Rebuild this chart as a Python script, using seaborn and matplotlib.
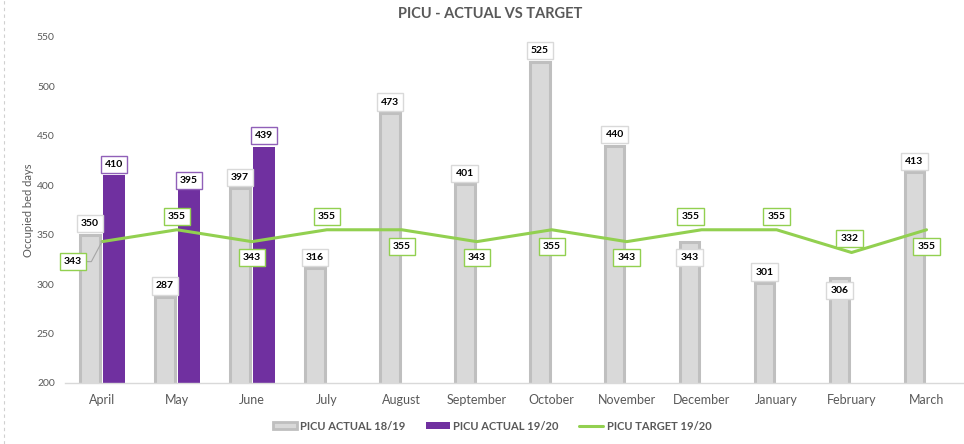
import numpy as np
import pandas as pd
import matplotlib
matplotlib.use("Agg")
import matplotlib.pyplot as plt
import seaborn as sns
from matplotlib.lines import Line2D
from matplotlib.patches import Patch

months = ["April", "May", "June", "July", "August", "September", "October",
          "November", "December", "January", "February", "March"]
actual_1819 = [350, 287, 397, 316, 473, 401, 525, 440, 343, 301, 306, 413]
actual_1920 = [410, 395, 439]
target_1920 = [343, 355, 343, 355, 355, 343, 355, 343, 355, 355, 332, 355]
series_names = ["PICU ACTUAL 18/19", "PICU ACTUAL 19/20", "PICU TARGET 19/20"]
title = "PICU - ACTUAL VS TARGET"
y_label = "Occupied bed days"
y_ticks = [200, 250, 300, 350, 400, 450, 500, 550]

# label placement (pixel offsets from the anchored value)
gray_label_dy = [11, 11, 11, 11, 11, 11, 11, 11, -16, 11, -12, 11]
purple_label_dy = [11, 10, 11]
green_label_off = [(-29, -20), (0, 13), (0, -16), (0, 13), (0, -17), (0, -16),
                   (0, -17), (0, -16), (-11, 13), (0, 13), (-2, 14), (0, -17)]

sns.set_theme(style="white")
plt.rcParams['font.family'] = ['Lato', 'DejaVu Sans']

GRAY_FILL = "#d9d9d9"
GRAY_EDGE = "#bfbfbf"
PURPLE = "#7030a0"
GREEN = "#92d050"
TXT = "#595959"

W, H = 964, 444
fig = plt.figure(figsize=(W / 100, H / 100), dpi=100)
ax = fig.add_axes([64.5 / W, 61 / H, (W - 64.5) / W, 346 / H])

rows = [(m, series_names[0], v) for m, v in zip(months, actual_1819)] + \
       [(m, series_names[1], v) for m, v in zip(months, actual_1920)]
df = pd.DataFrame(rows, columns=["month", "series", "value"])

sns.barplot(data=df, x="month", y="value", hue="series", order=months,
            hue_order=series_names[:2], palette=[GRAY_FILL, PURPLE],
            width=0.64, gap=0.08, saturation=1, legend=False, ax=ax,
            errorbar=None)

gray_bars = ax.containers[0]
purple_bars = ax.containers[1]
for b in gray_bars:
    w = b.get_width()
    cx = b.get_x() + w / 2
    nw = w - 2.5 / 75
    b.set_width(nw)
    b.set_x(cx - nw / 2)
    b.set_edgecolor(GRAY_EDGE)
    b.set_linewidth(2.2)
for b in purple_bars:
    b.set_linewidth(0)

sns.lineplot(x=np.arange(len(months)), y=target_1920, color=GREEN,
             linewidth=2.2, ax=ax, zorder=4)

ax.set_xlim(-0.5, len(months) - 0.5)
ax.set_ylim(200, 550)
ax.set_yticks(y_ticks)
ax.set_xticks(range(len(months)))
ax.set_xticklabels(months)
ax.set_xlabel("")
ax.set_ylabel("")
ax.tick_params(axis='y', colors=TXT, labelsize=7.5, length=0, pad=7)
ax.tick_params(axis='x', colors=TXT, labelsize=9, length=0, pad=8)
for s in ["top", "right", "left"]:
    ax.spines[s].set_visible(False)
ax.spines["bottom"].set_color("#d9d9d9")
ax.spines["bottom"].set_linewidth(1)
ax.grid(False)


def label(xy, text, dx, dy, ec, arrow=False):
    kw = dict(xy=xy, xytext=(dx, dy), textcoords='offset pixels',
              ha='center', va='center', fontsize=7.5, fontweight='bold',
              color='black', zorder=10,
              bbox=dict(boxstyle='square,pad=0.4', fc='white', ec=ec, lw=1))
    if arrow:
        kw['arrowprops'] = dict(arrowstyle='-', color='#a6a6a6', lw=0.8,
                                shrinkA=0, shrinkB=0,
                                connectionstyle='angle,angleA=0,angleB=62,rad=0')
    ax.annotate(text, **kw)


for b, v, dy in zip(gray_bars, actual_1819, gray_label_dy):
    cx = b.get_x() + b.get_width() / 2
    label((cx, v), str(v), 0, dy, "#d9d9d9")
for b, v, dy in zip(purple_bars, actual_1920, purple_label_dy):
    cx = b.get_x() + b.get_width() / 2
    label((cx, v), str(v), 0, dy, "#9060b8")
for i, (v, (dx, dy)) in enumerate(zip(target_1920, green_label_off)):
    label((i, v), str(v), dx, dy, GREEN, arrow=(i == 0))

fig.text(490 / W, 1 - 14 / H, title, ha='center', va='center',
         fontsize=10.5, fontweight='bold', color=TXT)
fig.text(28 / W, 1 - 210 / H, y_label, ha='center', va='center',
         rotation=90, fontsize=8, color=TXT)

handles = [Patch(fc=GRAY_FILL, ec=GRAY_EDGE, lw=2),
           Patch(fc=PURPLE, ec=PURPLE, lw=0),
           Line2D([], [], color=GREEN, lw=2.2)]
fig.legend(handles, series_names, loc='center',
           bbox_to_anchor=(492 / W, 1 - 426 / H), ncol=3, frameon=False,
           prop={'weight': 'bold', 'size': 8}, labelcolor=TXT,
           handlelength=2.2, handleheight=0.6, handletextpad=0.3,
           columnspacing=1.8)

fig.add_artist(Line2D([4 / W, 4 / W], [0, 1], transform=fig.transFigure,
                      color='#d0d0d0', lw=0.8, ls=(0, (3, 3))))

fig.savefig("out.png", dpi=100)
